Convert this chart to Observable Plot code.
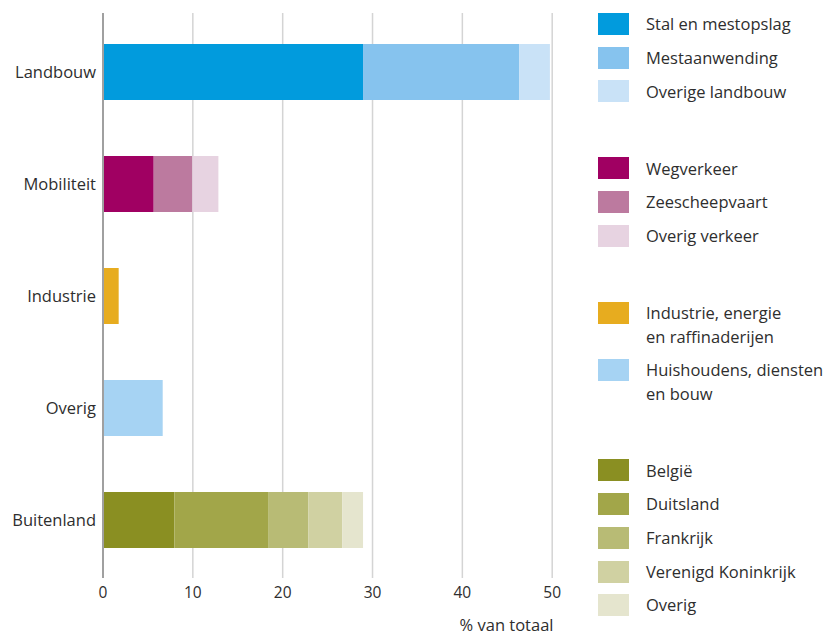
<!DOCTYPE html>
<html>
<head>
<meta charset="utf-8">
<script src="https://cdn.jsdelivr.net/npm/d3@7"></script>
<script src="https://cdn.jsdelivr.net/npm/@observablehq/plot@0.6"></script>
<style>
  html, body { margin: 0; padding: 0; background: #fff; }
  #wrap { position: relative; width: 828px; height: 635px; font-family: "Open Sans", sans-serif; color: #2e2e2e; }
  #chart { position: absolute; left: 0; top: 0; }
  #legend { position: absolute; left: 598px; top: 12.25px; font-size: 16.5px; line-height: 23.5px; }
  .item { display: flex; align-items: flex-start; margin-bottom: 10.2px; }
  .item.newgroup { margin-top: 53.5px; }
  .sw { width: 31px; height: 22px; margin-top: 0.75px; flex: none; }
  .lab { margin-left: 17px; white-space: pre-line; }
</style>
</head>
<body>
<div id="wrap">
  <div id="chart"></div>
  <div id="legend"></div>
</div>
<script>
const categories = ["Landbouw", "Mobiliteit", "Industrie", "Overig", "Buitenland"];
const sources = [
  "Stal en mestopslag", "Mestaanwending", "Overige landbouw",
  "Wegverkeer", "Zeescheepvaart", "Overig verkeer",
  "Industrie, energie en raffinaderijen",
  "Huishoudens, diensten en bouw",
  "België", "Duitsland", "Frankrijk", "Verenigd Koninkrijk", "Overig"
];
const legendLabels = [
  "Stal en mestopslag", "Mestaanwending", "Overige landbouw",
  "Wegverkeer", "Zeescheepvaart", "Overig verkeer",
  "Industrie, energie\nen raffinaderijen",
  "Huishoudens, diensten\nen bouw",
  "België", "Duitsland", "Frankrijk", "Verenigd Koninkrijk", "Overig"
];
const sourceCategory = [
  "Landbouw", "Landbouw", "Landbouw",
  "Mobiliteit", "Mobiliteit", "Mobiliteit",
  "Industrie",
  "Overig",
  "Buitenland", "Buitenland", "Buitenland", "Buitenland", "Buitenland"
];
const shares = [29.0, 17.4, 3.4, 5.7, 4.3, 2.9, 1.8, 6.7, 8.0, 10.5, 4.4, 3.8, 2.3];
const colors = [
  "#019bdd", "#86c3ee", "#c9e2f7",
  "#a00062", "#bc7a9f", "#e7d3e1",
  "#e7ac1f",
  "#a6d3f3",
  "#8a8f22", "#a2a649", "#b8bb75", "#d0d1a2", "#e5e5ce"
];
const groupStarts = ["Wegverkeer", "Industrie, energie en raffinaderijen", "België"];
const xTicks = [0, 10, 20, 30, 40, 50];
const xLabel = "% van totaal";

const data = sources.map((s, i) => ({source: s, category: sourceCategory[i], share: shares[i]}));

const chart = Plot.plot({
  width: 556,
  height: 635,
  marginTop: 13,
  marginBottom: 57,
  marginLeft: 102.5,
  marginRight: 4.3,
  style: {fontFamily: "Open Sans, sans-serif", fontSize: "15.5px", color: "#2e2e2e", background: "transparent", overflow: "visible"},
  x: {domain: [0, 50]},
  y: {domain: categories, paddingInner: 0.5, paddingOuter: 0.26},
  color: {domain: sources, range: colors},
  marks: [
    Plot.gridX(xTicks.filter(d => d > 0), {stroke: "#d4d4d4", strokeOpacity: 1, strokeWidth: 1.5}),
    Plot.barX(data, {x: "share", y: "category", fill: "source"}),
    Plot.ruleX([0], {stroke: "#a0a0a0", strokeWidth: 2}),
    Plot.axisX({ticks: xTicks, tickSize: 0, tickPadding: 8, label: null, fontSize: 15.5}),
    Plot.axisX({ticks: [], tickSize: 0, label: xLabel, labelAnchor: "right", labelArrow: "none", labelOffset: 52, fontSize: 16.5}),
    Plot.axisY({tickSize: 0, tickPadding: 7, label: null, fontSize: 16.5})
  ]
});
document.getElementById("chart").appendChild(chart);

const legend = document.getElementById("legend");
sources.forEach((s, i) => {
  const item = document.createElement("div");
  item.className = "item" + (groupStarts.includes(s) ? " newgroup" : "");
  const sw = document.createElement("div");
  sw.className = "sw";
  sw.style.background = colors[i];
  const lab = document.createElement("div");
  lab.className = "lab";
  lab.textContent = legendLabels[i];
  item.appendChild(sw);
  item.appendChild(lab);
  legend.appendChild(item);
});
</script>
</body>
</html>
